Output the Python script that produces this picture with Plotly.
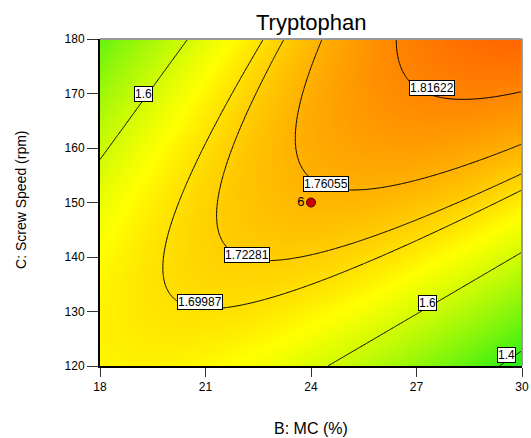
import numpy as np
import plotly.graph_objects as go

# ---- data ----
title_text = "Tryptophan"
x_title = "B: MC (%)"
y_title = "C: Screw Speed (rpm)"
b_ticks = [18, 21, 24, 27, 30]
c_ticks = [120, 130, 140, 150, 160, 170, 180]
b_center, b_half = 24, 6
c_center, c_half = 150, 30
# coded quadratic response-surface coefficients: intercept, B, C, BC, B^2, C^2
coef = [1.752, 0.0239, 0.0686, 0.1779, -0.0945, -0.0705]
levels = [1.4, 1.6, 1.69987, 1.72281, 1.76055, 1.81622]
label_text = ["1.6", "1.81622", "1.76055", "1.72281", "1.69987", "1.6", "1.4"]
label_b = [19.25, 27.43, 24.43, 22.19, 20.84, 27.30, 29.55]
label_c = [170.0, 171.1, 153.4, 140.4, 131.7, 131.65, 122.0]
design_b = [24]
design_c = [150]
design_label = ["6"]

# ---- surface ----
B = np.linspace(b_ticks[0], b_ticks[-1], 241)
C = np.linspace(c_ticks[0], c_ticks[-1], 241)
BB, CC = np.meshgrid(B, C)
b = (BB - b_center) / b_half
c = (CC - c_center) / c_half
Z = coef[0] + coef[1]*b + coef[2]*c + coef[3]*b*c + coef[4]*b**2 + coef[5]*c**2

colorscale = [
    [0.0, "rgb(30,238,20)"],
    [0.6, "rgb(255,255,0)"],
    [1.0, "rgb(255,100,0)"],
]

FONT = "Liberation Sans, Arial"

fig = go.Figure()
fig.add_trace(go.Heatmap(x=B, y=C, z=Z, zmin=1.36, zmax=1.86, colorscale=colorscale,
                         zsmooth="best", showscale=False, hoverinfo="skip"))
for L in levels:
    fig.add_trace(go.Contour(x=B, y=C, z=Z,
                             contours=dict(start=L, end=L, size=1, coloring="none"),
                             line=dict(color="black", width=1),
                             showscale=False, hoverinfo="skip"))

fig.add_trace(go.Scatter(x=design_b, y=design_c, mode="markers+text", text=design_label,
                         textposition="middle left",
                         textfont=dict(size=13, color="black", family=FONT),
                         marker=dict(size=9, color="#CC0000", line=dict(color="#4a0000", width=1)),
                         hoverinfo="skip", showlegend=False))

annotations = []
for t, xb, yc in zip(label_text, label_b, label_c):
    annotations.append(dict(x=xb, y=yc, xref="x", yref="y", text=t, showarrow=False,
                            bgcolor="white", bordercolor="black", borderwidth=1, borderpad=0,
                            font=dict(size=12, color="black", family=FONT)))
annotations.append(dict(x=0.5, y=-0.19, xref="paper", yref="paper", text=x_title, showarrow=False,
                        xanchor="center", yanchor="middle",
                        font=dict(size=16, color="black", family=FONT)))
annotations.append(dict(x=-0.187, y=0.508, xref="paper", yref="paper", text=y_title, showarrow=False,
                        textangle=-90, xanchor="center", yanchor="middle",
                        font=dict(size=14, color="black", family=FONT)))
annotations.append(dict(x=0.5, y=1.0, xref="paper", yref="paper", yshift=17, text=title_text,
                        showarrow=False, xanchor="center", yanchor="middle",
                        font=dict(size=22, color="black", family=FONT)))

fig.update_layout(
    width=531, height=438,
    margin=dict(l=100, r=9, t=39, b=72, autoexpand=False),
    paper_bgcolor="white", plot_bgcolor="white",
    showlegend=False,
    annotations=annotations,
    shapes=[
        dict(type="line", xref="paper", yref="paper", x0=0, x1=1, y0=1, y1=1,
             line=dict(color="#9a9a9a", width=2)),
        dict(type="line", xref="paper", yref="paper", x0=1, x1=1, y0=0, y1=1,
             line=dict(color="#9a9a9a", width=2)),
    ],
    font=dict(family=FONT, color="black"),
)
fig.update_xaxes(range=[b_ticks[0], b_ticks[-1]], tickvals=b_ticks, ticks="outside", ticklen=9,
                 tickcolor="#333", tickwidth=1, showline=True, linecolor="black", linewidth=2,
                 showgrid=False, zeroline=False, tickfont=dict(size=12), automargin=False)
fig.update_yaxes(range=[c_ticks[0], c_ticks[-1]], tickvals=c_ticks, ticks="outside", ticklen=11,
                 tickcolor="#333", tickwidth=1, showline=True, linecolor="black", linewidth=2,
                 showgrid=False, zeroline=False, tickfont=dict(size=12), automargin=False)

fig.write_html("out.html", config={"displayModeBar": False},
               post_script="document.body.style.margin='0';document.body.style.overflow='hidden';")
